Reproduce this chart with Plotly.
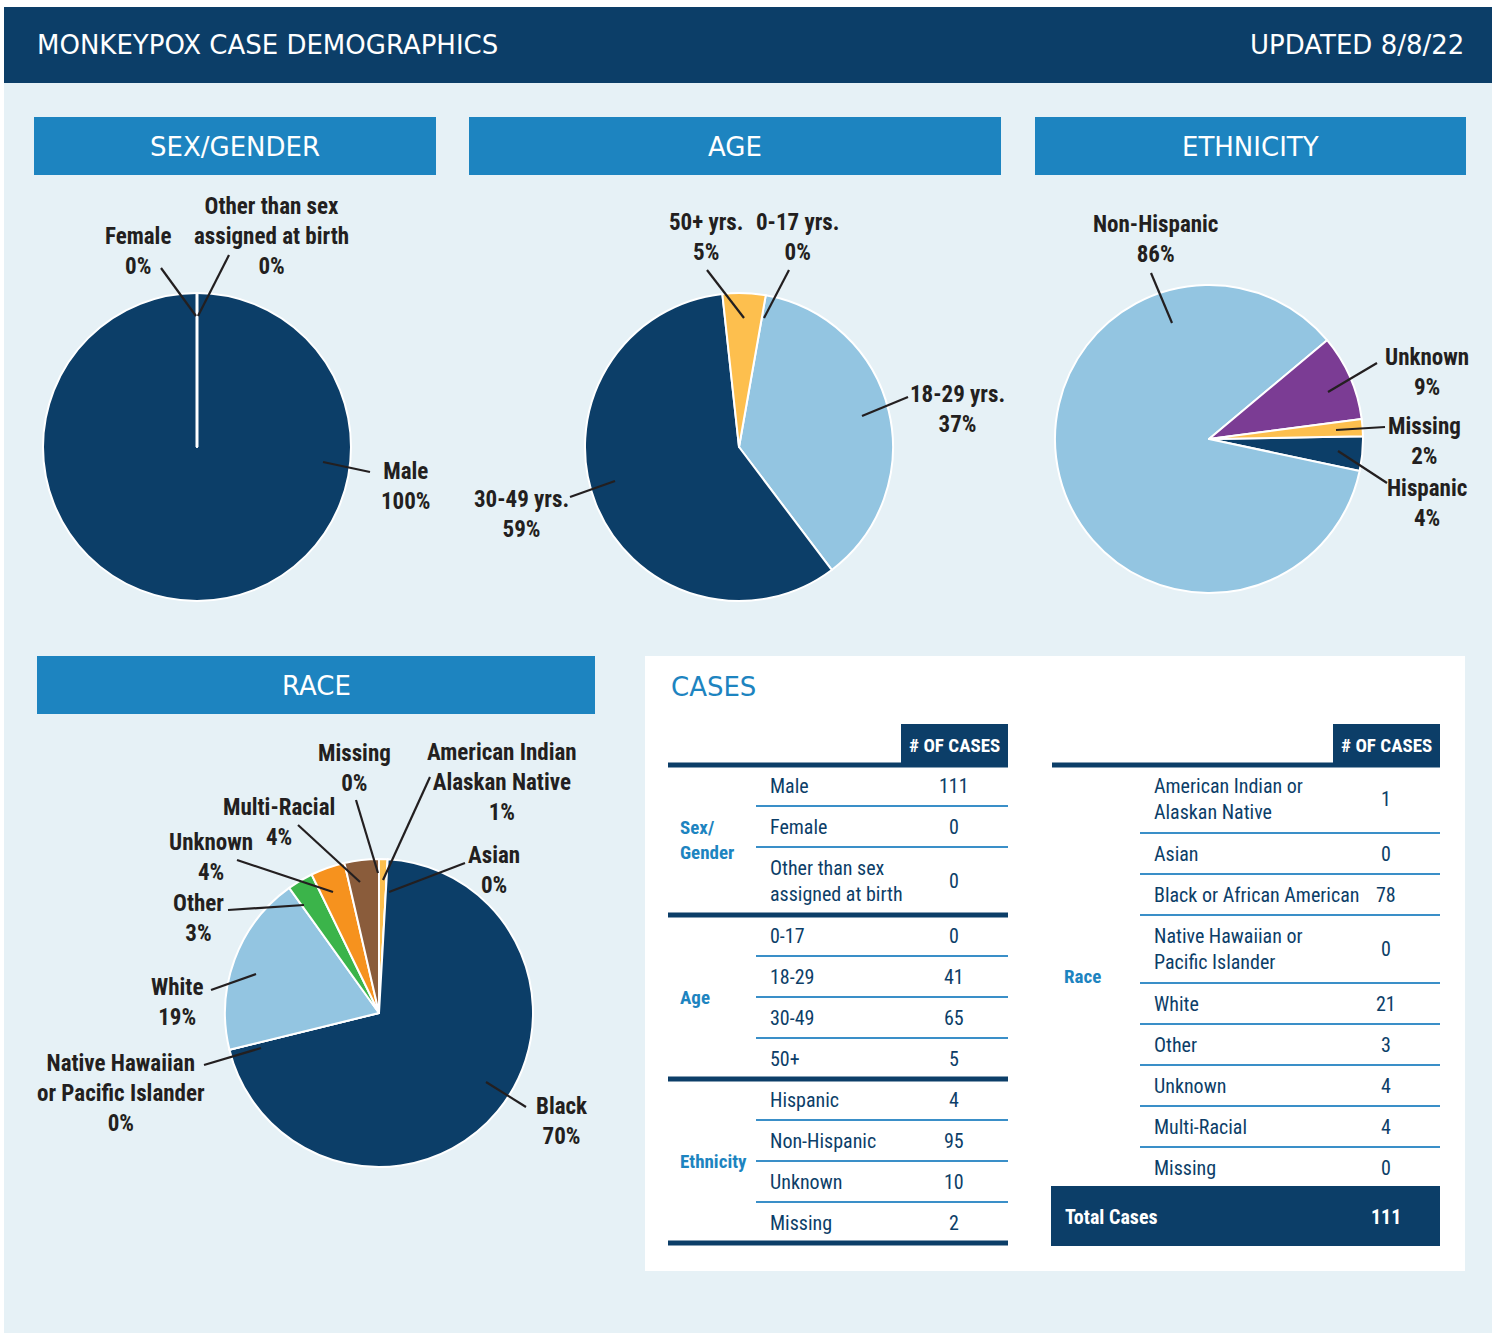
import plotly.graph_objects as go

W, H = 1499, 1335

# ---------------- data ----------------
title_left = "MONKEYPOX CASE DEMOGRAPHICS"
title_right = "UPDATED 8/8/22"
section_titles = ["SEX/GENDER", "AGE", "ETHNICITY", "RACE"]

sex_labels = ["Male", "Female", "Other than sex<br>assigned at birth"]
sex_counts = [111, 0, 0]

age_labels = ["0-17", "18-29", "30-49", "50+"]
age_pie_labels = ["0-17 yrs.", "18-29 yrs.", "30-49 yrs.", "50+ yrs."]
age_counts = [0, 41, 65, 5]

eth_labels = ["Hispanic", "Non-Hispanic", "Unknown", "Missing"]
eth_counts = [4, 95, 10, 2]

race_labels = ["American Indian or<br>Alaskan Native", "Asian", "Black or African American",
               "Native Hawaiian or<br>Pacific Islander", "White", "Other", "Unknown",
               "Multi-Racial", "Missing"]
race_pie_labels = ["American Indian<br>Alaskan Native", "Asian", "Black",
                   "Native Hawaiian<br>or Pacific Islander", "White", "Other", "Unknown",
                   "Multi-Racial", "Missing"]
race_counts = [1, 0, 78, 0, 21, 3, 4, 4, 0]
total_cases = 111

# ---------------- styles ----------------
NAVY = "#0c3e68"
BLUE = "#1d84c0"
LIGHT = "#93c5e1"
GOLD = "#fdbf4e"
PURPLE = "#7b3c94"
GREEN = "#3bb44a"
ORANGE = "#f6921e"
BROWN = "#8a5c3b"
BG = "#e6f1f6"
INK = "#231f20"
GEO = "DejaVu Sans"
COND = "Roboto Condensed"

fig = go.Figure()
shapes = []
ann = []


def rect(x0, y0, x1, y1, color, layer="below"):
    shapes.append(dict(type="rect", xref="x", yref="y", x0=x0, y0=y0, x1=x1, y1=y1,
                       fillcolor=color, line=dict(width=0), layer=layer))


def line(x0, y0, x1, y1, color=INK, width=2, layer="above"):
    shapes.append(dict(type="line", xref="x", yref="y", x0=x0, y0=y0, x1=x1, y1=y1,
                       line=dict(color=color, width=width), layer=layer))


def text(x, y, s, size, color, family, xanchor="center", bold=False):
    ann.append(dict(x=x, y=y, xref="x", yref="y", text=("<b>%s</b>" % s) if bold else s,
                    showarrow=False, xanchor=xanchor, yanchor="middle", align=xanchor,
                    font=dict(size=size, color=color, family=family)))


# background
rect(4, 83, 1492, 1333, BG)
rect(4, 7, 1492, 83, NAVY)
text(35, 45, title_left, 26, "white", GEO, "left")
text(1466, 45, title_right, 26, "white", GEO, "right")

# section headers
for (x0, y0, x1, y1), t in zip([(34, 117, 436, 175), (469, 117, 1001, 175),
                                (1035, 117, 1466, 175), (37, 656, 595, 714)], section_titles):
    rect(x0, y0, x1, y1, BLUE)
    text((x0 + x1) / 2, (y0 + y1) / 2 + 1, t, 26, "white", GEO)


def dom(cx, cy, r):
    return dict(x=[(cx - r) / W, (cx + r) / W], y=[1 - (cy + r) / H, 1 - (cy - r) / H])


def pct(vals):
    tot = sum(vals)
    return [int(round(100.0 * v / tot)) for v in vals]


def add_pie(labels, vals, colors, rotation, cx, cy, r):
    fig.add_trace(go.Pie(labels=[l.replace("<br>", " ") for l in labels], values=vals, sort=False,
                         direction="clockwise", rotation=rotation,
                         marker=dict(colors=colors, line=dict(color="white", width=2)),
                         textinfo="none", hoverinfo="label+value+percent",
                         domain=dom(cx, cy, r), showlegend=False))


def pie_labels(labels, vals, specs):
    p = pct(vals)
    for i, (tx, ty, lx0, ly0, lx1, ly1) in specs.items():
        text(tx, ty, "%s<br>%d%%" % (labels[i], p[i]), 23, INK, COND, bold=True)
        line(lx0, ly0, lx1, ly1, INK, 2.2)


# SEX pie
add_pie(sex_labels, sex_counts, [NAVY, NAVY, NAVY], 0, 197, 447, 154)
line(197, 447, 197, 293, "white", 3)
pie_labels(sex_labels, sex_counts, {
    0: (406, 486, 323, 462, 370, 472),
    1: (138, 251, 161, 268, 196, 316),
    2: (271, 236, 229, 255, 198, 316),
})

# AGE pie
add_pie(age_pie_labels, age_counts, [GOLD, LIGHT, NAVY, GOLD], 10, 739, 447, 154)
pie_labels(age_pie_labels, age_counts, {
    3: (706, 237, 707, 270, 744, 318),
    0: (797, 237, 789, 270, 764, 318),
    1: (957, 409, 908, 397, 862, 416),
    2: (521, 514, 570, 497, 615, 481),
})

# ETHNICITY pie
add_pie(eth_labels, eth_counts, [NAVY, LIGHT, PURPLE, GOLD], 89, 1209, 439, 154)
pie_labels(eth_labels, eth_counts, {
    1: (1155, 239, 1151, 273, 1172, 323),
    2: (1427, 372, 1377, 363, 1328, 392),
    3: (1424, 441, 1385, 427, 1336, 430),
    0: (1427, 503, 1387, 483, 1338, 451),
})

# RACE pie
add_pie(race_pie_labels, race_counts,
        [GOLD, GOLD, NAVY, LIGHT, LIGHT, GREEN, ORANGE, BROWN, BROWN], 0, 379, 1013, 154)
pie_labels(race_pie_labels, race_counts, {
    8: (354, 768, 356, 800, 378, 873),
    0: (502, 782, 430, 777, 383, 880),
    7: (279, 822, 298, 825, 360, 882),
    6: (211, 857, 237, 860, 333, 892),
    5: (198, 918, 228, 910, 304, 905),
    4: (177, 1002, 211, 990, 256, 974),
    3: (121, 1093, 204, 1065, 261, 1048),
    1: (494, 870, 465, 863, 389, 892),
    2: (562, 1121, 526, 1107, 486, 1082),
})

# ---------------- CASES table ----------------
rect(645, 656, 1465, 1271, "white")
text(669, 687, "CASES", 26, BLUE, GEO, "left")

TSIZE = 20
THIN = "#3a8fc8"


def row_h(lbl):
    return 68 if "<br>" in lbl else 41


def draw_table(groups, x0, x_lab, x_thin, x_val, x1, y_start, hdr_x0, thick_end=True):
    rect(hdr_x0, 724, x1, 766, NAVY)
    text((hdr_x0 + x1) / 2, 745, "# OF CASES", 19, "white", COND, bold=True)
    y = y_start
    line(x0, y, x1, y, NAVY, 5)
    for gname, labels, vals in groups:
        gy0 = y
        for i, (lb, v) in enumerate(zip(labels, vals)):
            h = row_h(lb)
            text(x_lab, y + h / 2, lb, TSIZE, NAVY, COND, "left")
            text(x_val, y + h / 2, str(v), TSIZE, NAVY, COND)
            y += h
            if i < len(labels) - 1:
                line(x_thin, y, x1, y, THIN, 2)
        text(x0 + 10, (gy0 + y) / 2, gname, 19, BLUE, COND, "left", bold=True)
        if thick_end:
            line(x0, y, x1, y, NAVY, 5)
    return y


draw_table([("Sex/<br>Gender", sex_labels, sex_counts),
            ("Age", age_labels, age_counts),
            ("Ethnicity", eth_labels, eth_counts)],
           668, 768, 756, 954, 1008, 765, 901)

yend = draw_table([("Race", race_labels, race_counts)],
                  1052, 1152, 1140, 1386, 1440, 765, 1333, thick_end=False)
rect(1051, yend - 2, 1440, 1246, NAVY, layer="above")
ann.append(dict(x=1063, y=(yend + 1246) / 2, xref="x", yref="y", text="<b>Total Cases</b>",
                showarrow=False, xanchor="left", yanchor="middle",
                font=dict(size=TSIZE, color="white", family=COND)))
ann.append(dict(x=1386, y=(yend + 1246) / 2, xref="x", yref="y", text="<b>%d</b>" % total_cases,
                showarrow=False, xanchor="center", yanchor="middle",
                font=dict(size=TSIZE, color="white", family=COND)))

fig.update_layout(
    width=W, height=H, margin=dict(l=0, r=0, t=0, b=0),
    paper_bgcolor="white", plot_bgcolor="rgba(0,0,0,0)",
    xaxis=dict(range=[0, W], visible=False, fixedrange=True, domain=[0, 1]),
    yaxis=dict(range=[H, 0], visible=False, fixedrange=True, domain=[0, 1]),
    shapes=shapes, annotations=ann, showlegend=False,
)

fig.write_html("out.html", config={"displayModeBar": False},
               post_script="document.body.style.margin='0';")
